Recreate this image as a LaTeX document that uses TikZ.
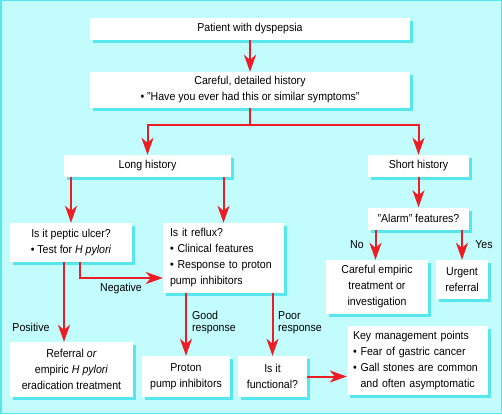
\documentclass[tikz,border=0pt]{standalone}
\usepackage{fontspec}
\setmainfont{Liberation Sans}[FakeStretch=0.92]
\usetikzlibrary{arrows.meta,shadows,calc}
\definecolor{bgcyan}{HTML}{C2FCFC}
\definecolor{shcyan}{HTML}{55E6EE}
\definecolor{arrred}{HTML}{EE1C24}
\begin{document}
\begin{tikzpicture}[x=1pt,y=-1pt,
  box/.style={fill=white, inner sep=0pt, align=center,
    drop shadow={shadow xshift=3pt, shadow yshift=-3pt, fill=shcyan, opacity=1},
    font=\fontsize{11.5}{16}\selectfont},
  lbox/.style={box, align=left},
  lbl/.style={inner sep=0pt, align=left, font=\fontsize{11.5}{12}\selectfont},
  arr/.style={draw=arrred, line width=2pt, -{Stealth[length=17pt 0 0,width=12pt 0 0,inset=5pt]}},
  ln/.style={draw=arrred, line width=2pt}]
\path[use as bounding box] (0,0) rectangle (502,414);
\fill[bgcyan] (0,0) rectangle (502,414);
\draw[shcyan, line width=1.5pt] (0.75,0.75) rectangle (501.25,413.25);

\node[box, minimum width=320pt, minimum height=22pt] (patient) at (250,29) {Patient with dyspepsia};
\node[box, minimum width=320pt, minimum height=36pt] (careful) at (250,90) {Careful, detailed history\\ \textbullet\ "Have you ever had this or similar symptoms"};
\node[box, minimum width=167pt, minimum height=22pt] (long) at (147.5,166) {Long history};
\node[box, minimum width=101pt, minimum height=22pt] (short) at (418.5,166) {Short history};
\node[box, minimum width=101pt, minimum height=22pt] (alarm) at (418.5,218.5) {"Alarm" features?};
\node[box, minimum width=122pt, minimum height=39pt] (peptic) at (71,242.5) {Is it peptic ulcer?\\ \textbullet\ Test for \textit{H pylori}};
\node[lbox, minimum width=121pt, minimum height=70pt, text width=107pt] (reflux) at (223.5,258) {Is it reflux?\\ \textbullet\ Clinical features\\ \textbullet\ Response to proton\\ pump inhibitors};
\node[box, minimum width=123pt, minimum height=55pt] (referral) at (71.5,369.5) {Referral \textit{or}\\ empiric \textit{H pylori}\\ eradication treatment};
\node[box, minimum width=88pt, minimum height=41pt] (proton) at (186,376.5) {Proton\\ pump inhibitors};
\node[box, minimum width=69pt, minimum height=41pt] (functional) at (272.5,376.5) {Is it\\ functional?};
\node[lbox, minimum width=141pt, minimum height=69pt, text width=129pt] (key) at (417.5,360.5) {Key management points\\ \textbullet\ Fear of gastric cancer\\ \textbullet\ Gall stones are common\\ \phantom{\textbullet\ }and often asymptomatic};
\node[box, minimum width=102pt, minimum height=54pt] (empiric) at (377,287) {Careful empiric\\ treatment or\\ investigation};
\node[box, minimum width=52pt, minimum height=39pt] (urgent) at (462,279.5) {Urgent\\ referral};

% connectors
\draw[arr] (patient) -- (careful);
\draw[ln] (careful.south) -- ++(0,17) coordinate (split);
\draw[arr] (split) -| (long.north);
\draw[arr] (split) -| (short.north);
\draw[arr] (long.south -| peptic.north) -- (peptic.north);
\draw[arr] (long.south -| reflux.north) -- (reflux.north);
\draw[arr] (short.south) -- (short.south |- alarm.north);
\draw[arr] ([xshift=-1.5pt]empiric.north |- alarm.south) -- ([xshift=-1.5pt]empiric.north);
\draw[arr] (urgent.north |- alarm.south) -- (urgent.north);
\draw[arr] ([xshift=-7pt]peptic.south) -- ([xshift=-7pt]peptic.south |- referral.north);
\draw[arr] ([xshift=9pt]peptic.south) |- ([yshift=-20pt]reflux.west);
\draw[arr] (proton.north |- reflux.south) -- (proton.north);
\draw[arr] (functional.north |- reflux.south) -- (functional.north);
\draw[arr] (functional.east) -- (functional.east -| key.west);

% labels
\node[lbl] (lneg) at (121,289) {Negative};
\node[lbl] (lpos) at (31,327) {Positive};
\node[lbl, anchor=west] (lgood) at (192,322.5) {Good\\response};
\node[lbl, anchor=west] (lpoor) at (278,322.5) {Poor\\response};
\node[lbl] (lno) at (357,245) {No};
\node[lbl] (lyes) at (484,245) {Yes};
\end{tikzpicture}
\end{document}
